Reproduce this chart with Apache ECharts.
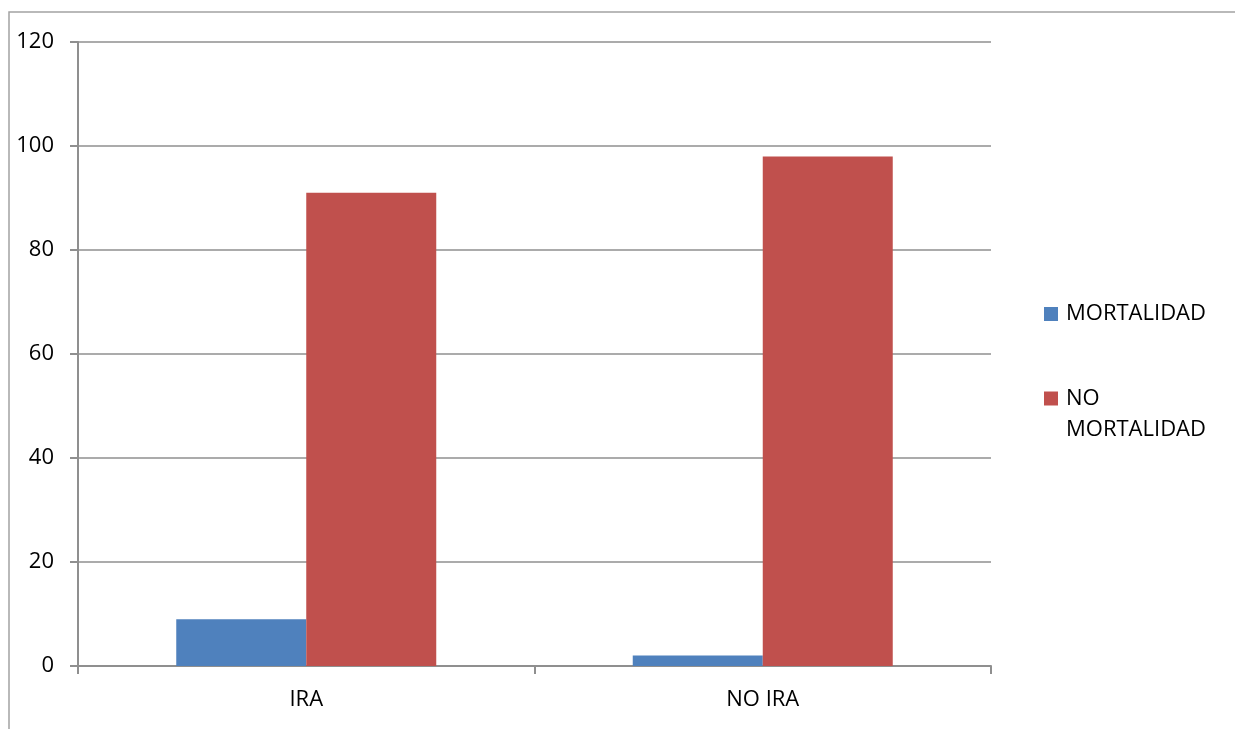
<!DOCTYPE html>
<html>
<head>
<meta charset="utf-8">
<script src="https://cdn.jsdelivr.net/npm/echarts@6/dist/echarts.min.js"></script>
<style>
  html, body { margin: 0; padding: 0; background: #fff; }
  #chart { width: 1235px; height: 729px; }
</style>
</head>
<body>
<div id="chart"></div>
<script>
// datos
const categories = ['IRA', 'NO IRA']
const mortalidad = [9, 2]
const noMortalidad = [91, 98]
const yTicks = { min: 0, max: 120, interval: 20 }

const FONT = 'Open Sans'
const gridColor = '#8f8f8f'

const chart = echarts.init(document.getElementById('chart'))
chart.setOption({
  animation: false,
  textStyle: { fontFamily: FONT },
  grid: { left: 78, right: 244, top: 42, bottom: 63 },
  graphic: [{
    type: 'rect',
    shape: { x: 9, y: 12, width: 1400, height: 900 },
    style: { fill: 'none', stroke: '#a3a3a3', lineWidth: 1.5 },
    silent: true
  }],
  legend: [{
    data: ['MORTALIDAD'],
    orient: 'vertical',
    left: 1044,
    top: 303,
    padding: 0,
    itemWidth: 14,
    itemHeight: 14,
    icon: 'rect',
    textStyle: { fontFamily: FONT, fontSize: 22, color: '#000', padding: [0, 0, 0, 3] }
  }, {
    data: ['NO MORTALIDAD'],
    orient: 'vertical',
    left: 1044,
    top: 352,
    padding: 0,
    itemWidth: 14,
    itemHeight: 14,
    icon: 'rect',
    // primera linea vacia para que "NO" quede alineado con el cuadro
    formatter: () => '\nNO\nMORTALIDAD',
    textStyle: { fontFamily: FONT, fontSize: 22, color: '#000', lineHeight: 31, padding: [0, 0, 0, 3] }
  }],
  xAxis: {
    type: 'category',
    data: categories,
    boundaryGap: true,
    axisLine: { show: true, lineStyle: { color: gridColor, width: 2 } },
    axisTick: { show: true, length: 8, alignWithLabel: false, lineStyle: { color: gridColor, width: 2 } },
    axisLabel: { fontFamily: FONT, fontSize: 22, color: '#000', margin: 23 },
    splitLine: { show: false }
  },
  yAxis: {
    type: 'value',
    min: yTicks.min,
    max: yTicks.max,
    interval: yTicks.interval,
    axisLine: { show: true, lineStyle: { color: gridColor, width: 2 } },
    axisTick: { show: true, length: 8, lineStyle: { color: gridColor, width: 2 } },
    axisLabel: { fontFamily: FONT, fontSize: 22, color: '#000', margin: 24 },
    splitLine: { show: true, lineStyle: { color: gridColor, width: 1.5 } }
  },
  series: [{
    name: 'MORTALIDAD',
    type: 'bar',
    data: mortalidad,
    barWidth: 130,
    barGap: '0%',
    itemStyle: { color: '#4F81BD' }
  }, {
    name: 'NO MORTALIDAD',
    type: 'bar',
    data: noMortalidad,
    barWidth: 130,
    barGap: '0%',
    itemStyle: { color: '#C0504D' }
  }]
})
</script>
</body>
</html>
